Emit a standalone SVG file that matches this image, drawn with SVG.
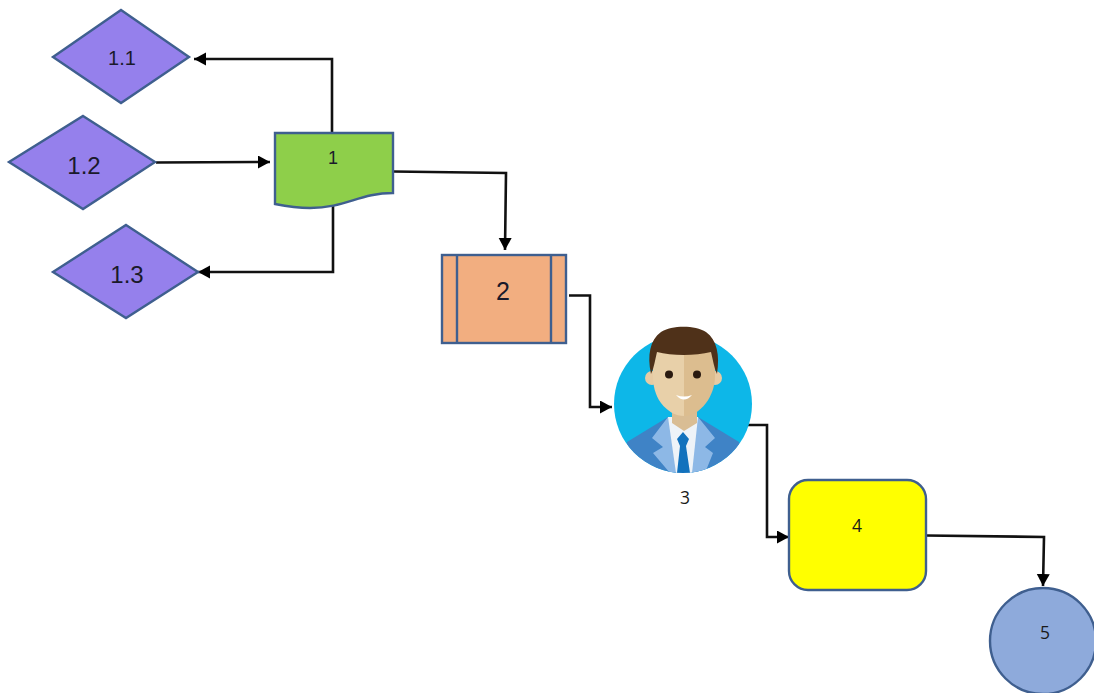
<svg xmlns="http://www.w3.org/2000/svg" width="1094" height="693" viewBox="0 0 1094 693">
<style>
.n{stroke:#3f5f8f;stroke-width:2.4}
.c{fill:none;stroke:#111;stroke-width:2.6}
.t{font-family:"Liberation Sans",Arial,sans-serif;fill:#1a1a2a;text-anchor:middle}
.o{font-family:"Open Sans","Noto Sans",sans-serif;fill:#1a1a1a;text-anchor:middle;font-size:17.500px}
.d{fill:#9580ec}
</style>
<defs>
<marker id="a" markerUnits="userSpaceOnUse" markerWidth="14" markerHeight="14" refX="12" refY="6.500" orient="auto"><path d="M0 0L12 6.500L0 13Z" fill="#000"/></marker>
<clipPath id="cp"><circle cx="683" cy="404" r="69"/></clipPath>
</defs>
<rect width="1094" height="693" fill="#fff"/>
<g id="connectors">
<path class="c" d="M332 132V59H194" marker-end="url(#a)"/>
<path class="c" d="M156 162.500L270 162" marker-end="url(#a)"/>
<path class="c" d="M333 205V272H198" marker-end="url(#a)"/>
<path class="c" d="M393 171.500L506 173L505 250" marker-end="url(#a)"/>
<path class="c" d="M569 295.500H590V407H612" marker-end="url(#a)"/>
<path class="c" d="M747 425H767V537H789" marker-end="url(#a)"/>
<path class="c" d="M926 535.500L1044 537L1043 586" marker-end="url(#a)"/>
</g>
<g id="n11"><polygon class="n d" points="121,10 189,57 121,103 53,57"/><text class="t" x="122" y="65" font-size="20">1.1</text></g>
<g id="n12"><polygon class="n d" points="83,116 155,162 83,209 9,162"/><text class="t" x="84" y="174" font-size="24">1.2</text></g>
<g id="n13"><polygon class="n d" points="126,225 198,272 126,318 53,272"/><text class="t" x="127" y="283" font-size="24">1.3</text></g>
<g id="n1"><path class="n" fill="#8ecf4a" d="M275 133H393V193C360 193 345 208 310 208C295 208 285 206 275 204Z"/><text class="t" x="333" y="164" font-size="18">1</text></g>
<g id="n2"><rect class="n" fill="#f2ae80" x="442" y="255" width="124" height="88"/><path class="n" fill="none" d="M457 255V343M551 255V343"/><text class="t" x="503" y="300" font-size="25">2</text></g>
<g id="n3">
<circle cx="683" cy="404" r="69" fill="#0db7e8"/>
<g clip-path="url(#cp)">
<path fill="#3f83c6" d="M620 473L627 442L668 417H698L739 442L746 473Z"/>
<path fill="#8db8e6" d="M668 417L652 438L663 447L653 453L670 473H705L713 453L705 447L715 438L698 417Z"/>
<path fill="#eef3f8" d="M668 417L676 473H692L698 417Z"/>
<path fill="#d9bd94" d="M672 405H697V423L684 431L672 423Z"/>
<path fill="#1272bd" d="M683 432L689 439L686 446L690 473H677L680 446L677 439Z"/>
</g>
<circle cx="652" cy="378" r="7" fill="#e6cba4"/><circle cx="715" cy="378" r="7" fill="#e6cba4"/>
<path fill="#e8d0a9" d="M653 350H684V416C676 416 668 412 661 403C655 395 653 385 653 376Z"/>
<path fill="#dcbd8f" d="M684 350H715V376C715 385 712 395 706 403C699 412 692 416 684 416Z"/>
<path fill="#4f3119" d="M651 374C647 355 650 340 661 332C672 325 695 325 706 332C717 340 720 355 717 374C714 368 713 360 711 352C695 356 672 356 657 352C655 360 654 368 651 374Z"/>
<circle cx="669" cy="374.500" r="4" fill="#2a1a10"/><circle cx="697" cy="374.500" r="4" fill="#2a1a10"/>
<path fill="#fff" d="M676 395Q684 398 692 395Q684 404 676 395Z"/>
<text class="o" x="685" y="504">3</text>
</g>
<g id="n4"><rect class="n" fill="#ffff00" x="789" y="480" width="137" height="110" rx="19"/><text class="o" x="857" y="532">4</text></g>
<g id="n5"><ellipse class="n" fill="#8eaadb" cx="1043" cy="641" rx="53" ry="53"/><text class="o" x="1045" y="639">5</text></g>
</svg>
